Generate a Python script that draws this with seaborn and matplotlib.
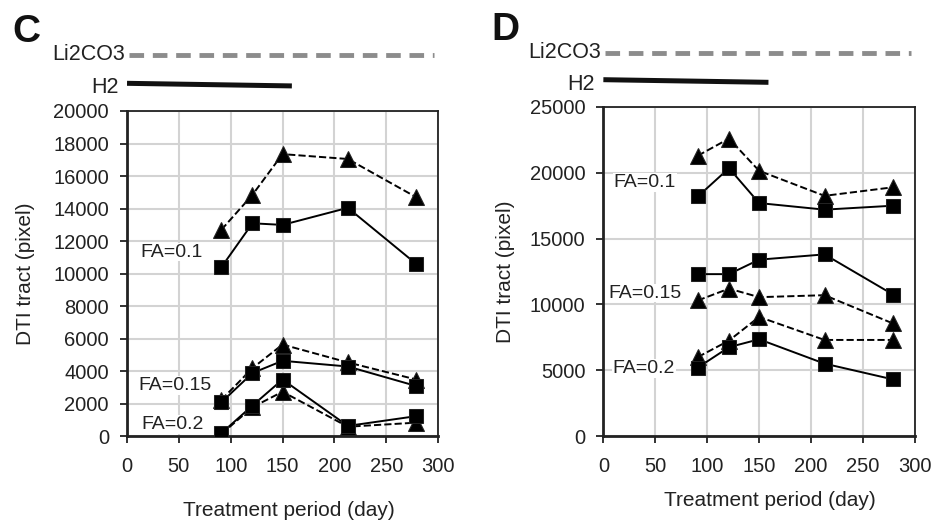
import seaborn as sns
import numpy as np
import pandas as pd
import matplotlib.pyplot as plt
import matplotlib.transforms as mtransforms

# treatment days
days = [91, 121, 150, 213, 279]

# panel C values (squares = solid line, triangles = dashed line)
c_sq_01 = [10400, 13100, 13000, 14050, 10600]
c_tri_01 = [12700, 14850, 17350, 17050, 14700]
c_sq_015 = [2100, 3900, 4650, 4300, 3100]
c_tri_015 = [2250, 4200, 5650, 4550, 3500]
c_sq_02 = [200, 1900, 3500, 650, 1250]
c_tri_02 = [150, 1800, 2750, 600, 850]

# panel D values
d_sq_01 = [18200, 20350, 17700, 17200, 17500]
d_tri_01 = [21300, 22600, 20150, 18250, 18900]
d_sq_015 = [12300, 12300, 13400, 13800, 10750]
d_tri_015 = [10300, 11200, 10550, 10700, 8550]
d_sq_02 = [5200, 6750, 7350, 5500, 4300]
d_tri_02 = [6000, 7250, 9050, 7300, 7300]

fa_labels = ['FA=0.1', 'FA=0.15', 'FA=0.2']

sns.set_style("whitegrid")
plt.rcParams['font.family'] = ['Liberation Sans', 'DejaVu Sans']

fig = plt.figure(figsize=(9.34, 5.25), dpi=100)
axC = fig.add_axes([0.136, 0.1686, 0.333, 0.620])
axD = fig.add_axes([0.646, 0.1695, 0.3335, 0.6267])


def draw_panel(ax, sq_sets, tri_sets, ymax, ystep, label_pos, xlab_xy, ylab_x):
    for tri in tri_sets:
        sns.lineplot(x=days, y=tri, ax=ax, color='black', marker='^', markersize=11,
                     linestyle='--', linewidth=1.4, markeredgecolor='#222222', zorder=3)
    for sq in sq_sets:
        sns.lineplot(x=days, y=sq, ax=ax, color='black', marker='s', markersize=10,
                     linestyle='-', linewidth=1.4, markeredgecolor='#222222', zorder=4)
    ax.set_xlim(0, 300)
    ax.set_ylim(0, ymax)
    ax.set_xticks(np.arange(0, 301, 50))
    ax.set_yticks(np.arange(0, ymax + 1, ystep))
    ax.grid(True, color='#d3d3d3', linewidth=1.5)
    for sp in ax.spines.values():
        sp.set_color('#222222')
        sp.set_linewidth(1.3)
    ax.spines['left'].set_linewidth(2)
    ax.spines['bottom'].set_linewidth(2)
    ax.tick_params(axis='both', labelsize=14.5, length=5, width=1.3, color='#222222',
                   direction='out', left=True, bottom=True, labelcolor='#222222')
    ax.tick_params(axis='x', pad=10)
    ax.tick_params(axis='y', pad=8)
    ax.set_xlabel('Treatment period (day)', fontsize=15, color='#222222')
    ax.set_ylabel('DTI tract (pixel)', fontsize=15, color='#222222')
    ax.xaxis.set_label_coords(*xlab_xy)
    ax.yaxis.set_label_coords(ylab_x, 0.5)
    for lab, (lx, ly) in zip(fa_labels, label_pos):
        ax.text(lx, ly, lab, fontsize=14, va='center', ha='left', color='#222222', zorder=5,
                bbox=dict(facecolor='white', edgecolor='none', pad=0.5))


draw_panel(axC, [c_sq_01, c_sq_015, c_sq_02], [c_tri_01, c_tri_015, c_tri_02],
           20000, 2000, [(13, 11330), (11, 3130), (14, 720)], (0.519, -0.198), -0.296)
draw_panel(axD, [d_sq_01, d_sq_015, d_sq_02], [d_tri_01, d_tri_015, d_tri_02],
           25000, 5000, [(10, 19270), (5, 10860), (9, 5130)], (0.534, -0.167), -0.284)

# treatment bars above each panel
h2_end = 159
li_end = 296
for ax, y_li, y_h2 in [(axC, 1.173, 1.081), (axD, 1.165, 1.079)]:
    trans = mtransforms.blended_transform_factory(ax.transData, ax.transAxes)
    ax.plot([2, li_end], [y_li, y_li], transform=trans, clip_on=False, color='#8c8c8c',
            linewidth=3.5, dashes=(3.0, 1.8), solid_capstyle='butt')
    ax.plot([0, h2_end], [y_h2 + 0.004, y_h2 - 0.004], transform=trans, clip_on=False,
            color='#111111', linewidth=3.6, solid_capstyle='butt')
    ax.text(-2, y_li, 'Li2CO3', transform=trans, ha='right', va='center', fontsize=15.5,
            color='#222222')
    ax.text(-8, y_h2 - 0.01, 'H2', transform=trans, ha='right', va='center', fontsize=15.5,
            color='#222222')

fig.text(12 / 934, 1 - 42 / 525, 'C', fontsize=28, fontweight='bold', color='#111111')
fig.text(491 / 934, 1 - 40 / 525, 'D', fontsize=28, fontweight='bold', color='#111111')

plt.savefig('out.png', dpi=100)
plt.close()
